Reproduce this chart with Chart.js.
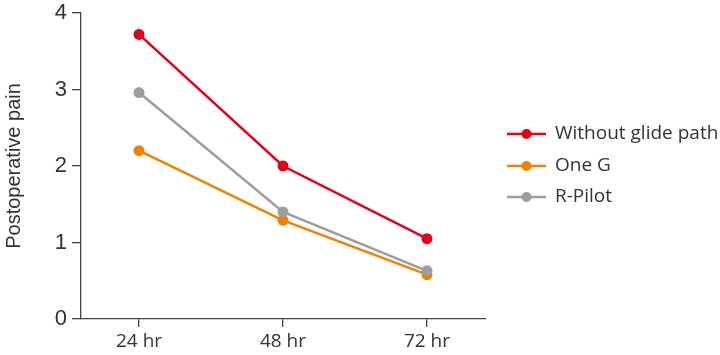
<!DOCTYPE html>
<html>
<head>
<meta charset="utf-8">
<script src="https://cdn.jsdelivr.net/npm/chart.js@4/dist/chart.umd.min.js"></script>
<style>
html,body{margin:0;padding:0;background:#fff;}
#wrap{width:720px;height:355px;position:relative;}
</style>
</head>
<body>
<div id="wrap"><canvas id="c" width="720" height="355"></canvas></div>
<script>
const categories = ["24 hr", "48 hr", "72 hr"];
const seriesNames = ["Without glide path", "One G", "R-Pilot"];
const withoutGlidePath = [3.72, 2.00, 1.05];
const oneG = [2.20, 1.29, 0.58];
const rPilot = [2.96, 1.40, 0.63];
const yTicks = [0, 1, 2, 3, 4];
const colors = ["#e2001a", "#ef8200", "#9d9d9d"];

function pts(arr){ return arr.map((v,i)=>({x:i, y:v})); }

const customLegend = {
  id: 'customLegend',
  afterDraw(chart){
    const ctx = chart.ctx;
    ctx.save();
    const x0 = 507, x1 = 546, tx = 555;
    const ys = [134, 166, 197];
    chart.data.datasets.forEach((ds, i) => {
      const y = ys[i];
      ctx.strokeStyle = ds.borderColor;
      ctx.lineWidth = 2.5;
      ctx.beginPath(); ctx.moveTo(x0, y); ctx.lineTo(x1, y); ctx.stroke();
      ctx.fillStyle = ds.borderColor;
      ctx.beginPath(); ctx.arc((x0+x1)/2, y, 5, 0, Math.PI*2); ctx.fill();
      ctx.fillStyle = "#333333";
      ctx.font = '19px "Open Sans"';
      ctx.textBaseline = 'middle';
      ctx.textAlign = 'left';
      ctx.fillText(ds.label, tx, y);
    });
    ctx.restore();
  }
};

new Chart(document.getElementById('c'), {
  type: 'line',
  data: {
    datasets: [
      {label: seriesNames[0], data: pts(withoutGlidePath), borderColor: colors[0], backgroundColor: colors[0], order: 1},
      {label: seriesNames[1], data: pts(oneG), borderColor: colors[1], backgroundColor: colors[1], order: 3},
      {label: seriesNames[2], data: pts(rPilot), borderColor: colors[2], backgroundColor: colors[2], order: 2}
    ]
  },
  options: {
    responsive: false,
    animation: false,
    devicePixelRatio: 1,
    layout: {padding: {top: 13, right: 234, left: 0, bottom: 0}},
    elements: {
      line: {borderWidth: 2.5, tension: 0},
      point: {radius: 5.5, borderWidth: 0, hoverRadius: 5.5}
    },
    plugins: {legend: {display: false}, tooltip: {enabled: false}},
    scales: {
      x: {
        type: 'linear',
        min: -0.403,
        max: 2.41,
        afterBuildTicks(scale){ scale.ticks = categories.map((c,i)=>({value:i})); },
        afterFit(scale){ scale.height = 36; scale.paddingLeft = 0; scale.paddingRight = 0; },
        ticks: {
          callback: (v) => categories[v],
          color: '#333333',
          font: {family: '"Open Sans"', size: 19},
          padding: 3,
          maxRotation: 0,
          autoSkip: false
        },
        grid: {drawOnChartArea: false, drawTicks: true, tickLength: 8, color: '#444444', lineWidth: 1.3},
        border: {display: true, color: '#444444', width: 1.3}
      },
      y: {
        min: 0,
        max: 4,
        afterBuildTicks(scale){ scale.ticks = yTicks.map(v=>({value:v})); },
        afterFit(scale){ scale.width = 81; scale.paddingTop = 0; scale.paddingBottom = 0; },
        ticks: {
          color: '#333333',
          font: {family: '"Liberation Sans", Arial', size: 22},
          padding: 5
        },
        grid: {drawOnChartArea: false, drawTicks: true, tickLength: 9, color: '#444444', lineWidth: 1.3},
        border: {display: true, color: '#444444', width: 1.3},
        title: {
          display: true,
          text: 'Postoperative pain',
          color: '#333333',
          font: {family: '"Liberation Sans", Arial', size: 20},
          padding: {top: 2, bottom: 0}
        }
      }
    }
  },
  plugins: [customLegend]
});
</script>
</body>
</html>
